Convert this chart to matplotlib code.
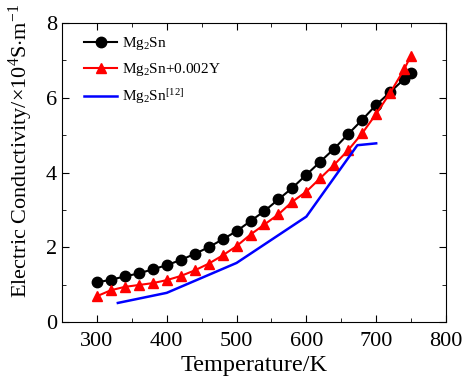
import numpy as np
import matplotlib
matplotlib.use('Agg')
import matplotlib.pyplot as plt

plt.rcParams['font.family'] = ['Liberation Serif', 'DejaVu Serif']
plt.rcParams['mathtext.fontset'] = 'custom'
plt.rcParams['mathtext.rm'] = 'Liberation Serif'
plt.rcParams['mathtext.it'] = 'Liberation Serif:italic'

# data
temp = [300, 320, 340, 360, 380, 400, 420, 440, 460, 480, 500, 520,
        540, 560, 580, 600, 620, 640, 660, 680, 700, 720, 740, 750]
mg2sn = [1.06, 1.13, 1.22, 1.30, 1.41, 1.52, 1.66, 1.82, 2.00, 2.21, 2.43, 2.70,
         2.97, 3.28, 3.59, 3.94, 4.29, 4.64, 5.03, 5.41, 5.81, 6.15, 6.50, 6.67]
mg2sn_y = [0.69, 0.85, 0.94, 0.99, 1.04, 1.12, 1.23, 1.38, 1.56, 1.78, 2.03, 2.34,
           2.61, 2.88, 3.22, 3.49, 3.85, 4.21, 4.60, 5.05, 5.57, 6.13, 6.76, 7.13]
ref_temp = [330, 400, 500, 600, 673, 700]
ref_val = [0.51, 0.78, 1.58, 2.82, 4.73, 4.78]

fig = plt.figure(figsize=(4.73, 3.83), dpi=100)
ax = fig.add_axes([62/473, 1 - 322/383, 384/473, 299/383])

ax.plot(temp, mg2sn, '-o', color='black', lw=1.5, ms=7.5, label='Mg$_2$Sn')
ax.plot(temp, mg2sn_y, '-^', color='red', lw=1.5, ms=7.5, label='Mg$_2$Sn+0.002Y')
ax.plot(ref_temp, ref_val, '-', color='blue', lw=1.8, label='Mg$_2$Sn$^{[12]}$')

ax.set_xlim(250, 800)
ax.set_ylim(0, 8)
ax.set_xticks([300, 400, 500, 600, 700, 800])
ax.set_xticks(np.arange(250, 800, 100), minor=True)
ax.set_yticks([0, 2, 4, 6, 8])
ax.set_yticks([1, 3, 5, 7], minor=True)
ax.tick_params(which='both', direction='in', top=True, right=True, labelsize=16)
ax.tick_params(which='major', length=5)
ax.tick_params(which='minor', length=3)
ax.tick_params(axis='x', pad=7)

ax.set_xlabel('Temperature/K', fontsize=17.5, labelpad=3)
ax.set_ylabel('Electric Conductivity/$\\times$10$^4$S$\\cdot$m$^{-1}$', fontsize=16)
ax.yaxis.set_label_coords(-0.07, 0.572)

ax.legend(loc='upper left', bbox_to_anchor=(0.025, 1.0), frameon=False, fontsize=11,
          handlelength=2.2, handletextpad=0.3, labelspacing=0.6, borderaxespad=0.4)

fig.savefig('out.png', dpi=100)
